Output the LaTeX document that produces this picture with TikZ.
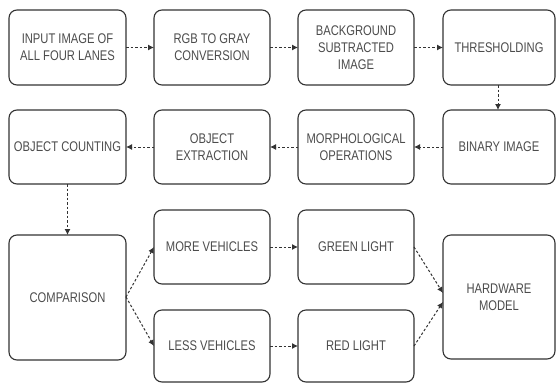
\documentclass[tikz,border=0pt]{standalone}
\usepackage{fontspec}
\newfontfamily\lblfont[FakeStretch=0.8]{Liberation Sans}
\usetikzlibrary{arrows.meta}
\begin{document}
\begin{tikzpicture}[x=1pt,y=-1pt,
  box/.style={draw=black!80,line width=1.1pt,rounded corners=8pt,fill=white},
  lbl/.style={font=\lblfont\fontsize{14}{17}\selectfont,text=black!70,align=center},
  flow/.style={draw=black!80,line width=1pt,dash pattern=on 2.5pt off 2pt,-{Latex[length=6pt,width=6pt]}}]
\useasboundingbox (0,0) rectangle (556,383);
% row 1
\draw[box] (9,10) rectangle (126,85) coordinate (b1);
\node[lbl] (t1) at (67.5,47.5) {INPUT IMAGE OF\\ALL FOUR LANES};
\draw[box] (154,10) rectangle (270,85);
\node[lbl] (t2) at (212,47.5) {RGB TO GRAY\\CONVERSION};
\draw[box] (298,10) rectangle (414,85);
\node[lbl] (t3) at (356,47.5) {BACKGROUND\\SUBTRACTED\\IMAGE};
\draw[box] (443,10) rectangle (555,85);
\node[lbl] (t4) at (499,47.5) {THRESHOLDING};
% row 2
\draw[box] (9,110) rectangle (126,184);
\node[lbl] (t8) at (67.5,147) {OBJECT COUNTING};
\draw[box] (154,110) rectangle (270,184);
\node[lbl] (t7) at (212,147) {OBJECT\\EXTRACTION};
\draw[box] (298,110) rectangle (414,184);
\node[lbl] (t6) at (356,147) {MORPHOLOGICAL\\OPERATIONS};
\draw[box] (443,110) rectangle (555,184);
\node[lbl] (t5) at (499,147) {BINARY IMAGE};
% row 3
\draw[box] (9,235) rectangle (126,360);
\node[lbl] (t9) at (67.5,297.5) {COMPARISON};
\draw[box] (154,210) rectangle (270,284);
\node[lbl] (t10) at (212,247) {MORE VEHICLES};
\draw[box] (154,310) rectangle (270,382);
\node[lbl] (t11) at (212,346) {LESS VEHICLES};
\draw[box] (298,210) rectangle (414,284);
\node[lbl] (t12) at (356,247) {GREEN LIGHT};
\draw[box] (298,310) rectangle (414,382);
\node[lbl] (t13) at (356,346) {RED LIGHT};
\draw[box] (443,235) rectangle (555,359);
\node[lbl] (t14) at (499,297) {HARDWARE\\MODEL};
% connector anchors
\coordinate (a1) at (126,47.5); \coordinate (a2) at (154,47.5);
\coordinate (a3) at (270,47.5); \coordinate (a4) at (298,47.5);
\coordinate (a5) at (414,47.5); \coordinate (a6) at (443,47.5);
\coordinate (v1) at (498,85); \coordinate (v2) at (498,110);
\coordinate (c1) at (443,147); \coordinate (c2) at (414,147);
\coordinate (c3) at (298,147); \coordinate (c4) at (270,147);
\coordinate (c5) at (154,147); \coordinate (c6) at (126,147);
\coordinate (d1) at (67.5,184); \coordinate (d2) at (67.5,235);
\coordinate (e0) at (126,297); \coordinate (e1) at (154,247); \coordinate (e2) at (154,346);
\coordinate (f1) at (270,247); \coordinate (f2) at (298,247);
\coordinate (g1) at (270,346); \coordinate (g2) at (298,346);
\coordinate (h1) at (414,247); \coordinate (h2) at (443,293);
\coordinate (k1) at (414,346); \coordinate (k2) at (443,302);
\draw[flow] (a1) -- (a2);
\draw[flow] (a3) -- (a4);
\draw[flow] (a5) -- (a6);
\draw[flow] (v1) -- (v2);
\draw[flow] (c1) -- (c2);
\draw[flow] (c3) -- (c4);
\draw[flow] (c5) -- (c6);
\draw[flow] (d1) -- (d2);
\draw[flow] (e0) -- (e1);
\draw[flow] (e0) -- (e2);
\draw[flow] (f1) -- (f2);
\draw[flow] (g1) -- (g2);
\draw[flow] (h1) -- (h2);
\draw[flow] (k1) -- (k2);
\end{tikzpicture}
\end{document}
